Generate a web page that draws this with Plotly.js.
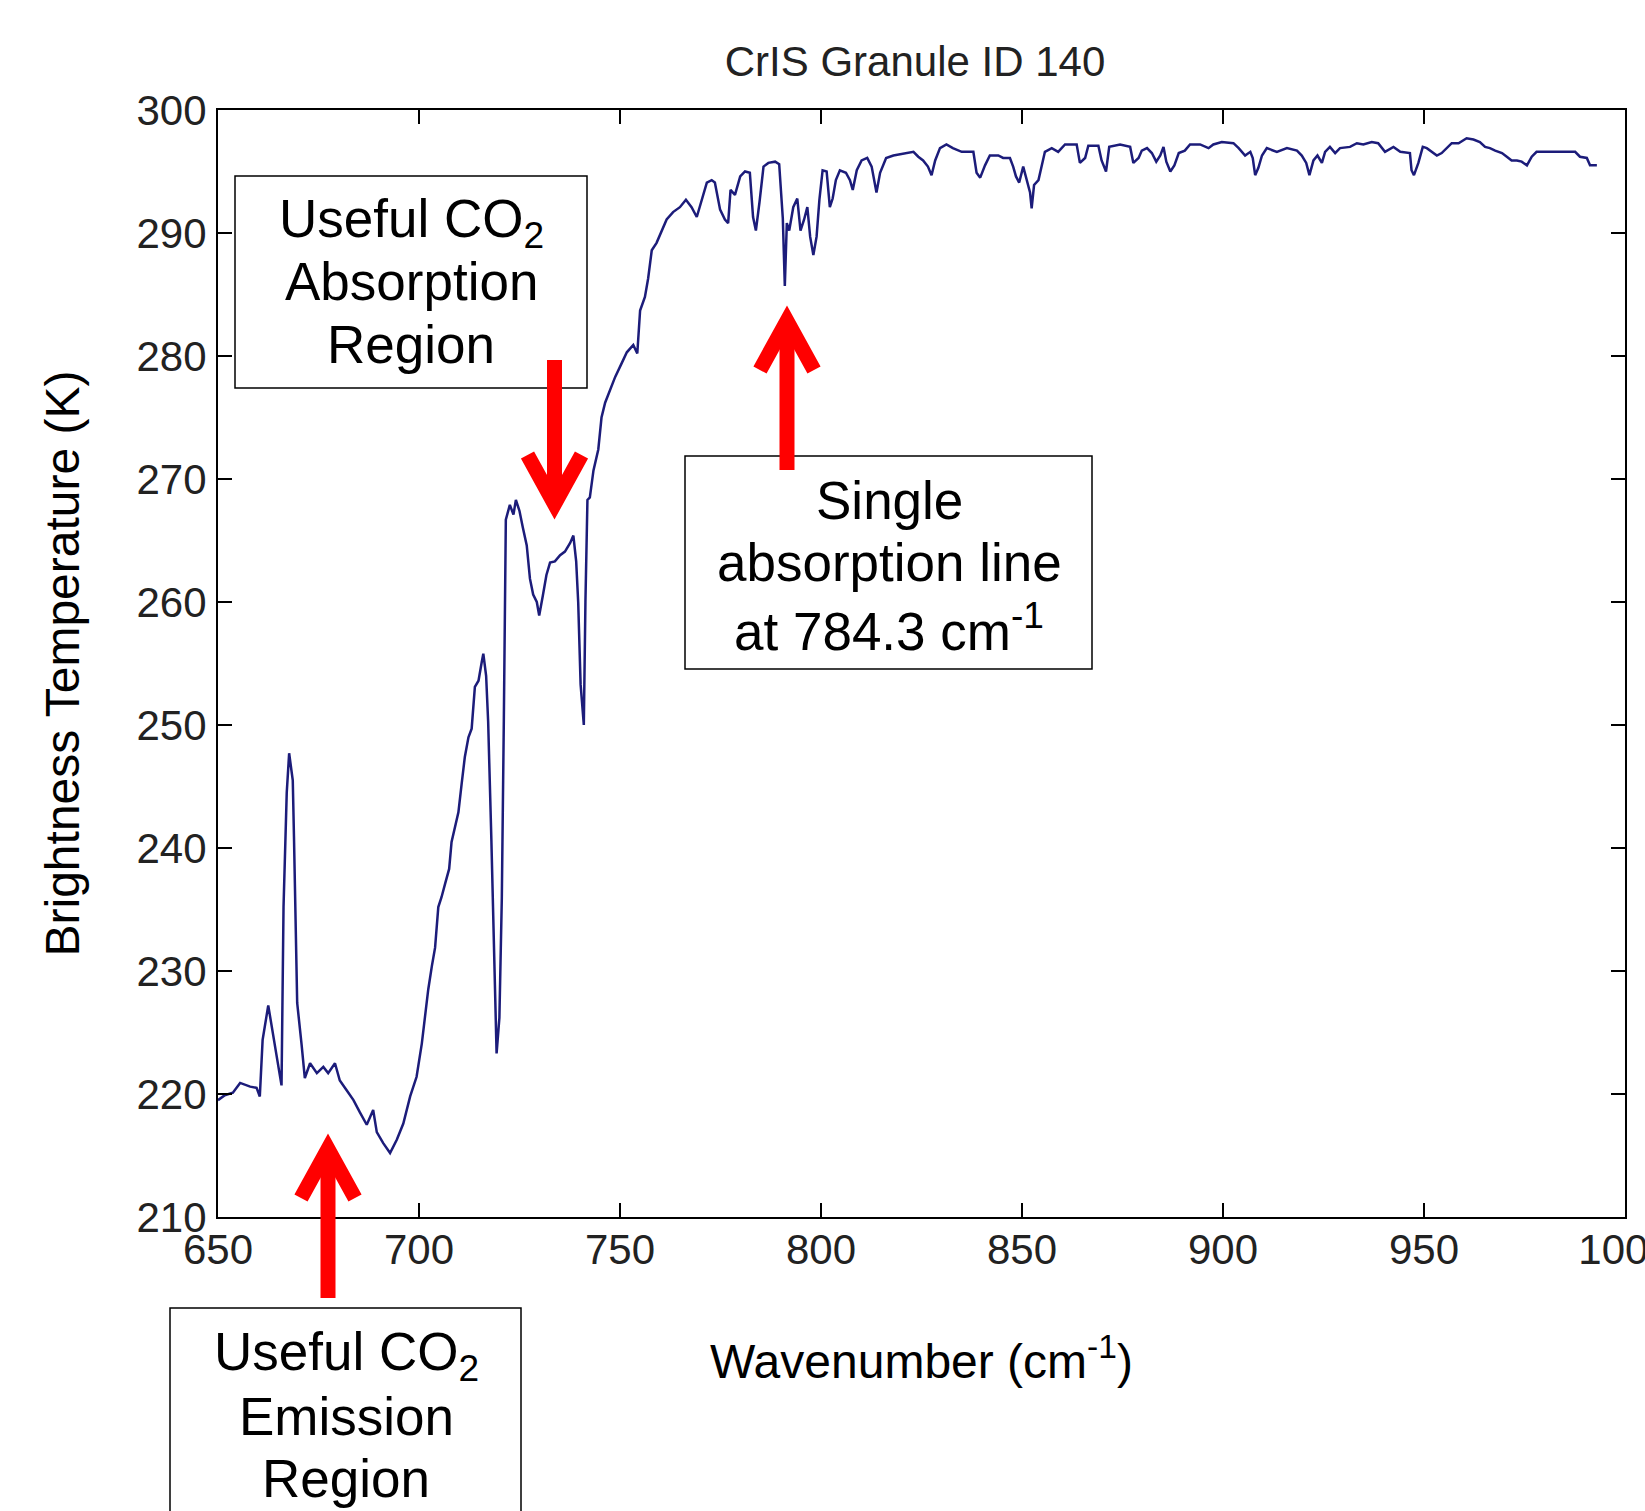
<!DOCTYPE html>
<html>
<head>
<meta charset="utf-8">
<script src="https://cdn.plot.ly/plotly-3.0.1.min.js"></script>
<style>html,body{margin:0;padding:0;background:#fff;}#chart{width:1645px;height:1511px;}</style>
</head>
<body>
<div id="chart"></div>
<script>
// ---- Data ----
const wavenumber = [
650.0,651.7,653.7,655.5,658.0,659.6,660.4,661.1,662.5,663.4,664.6,665.8,666.3,667.1,667.7,668.6,668.9,669.7,670.8,671.6,
672.9,674.6,676.2,677.4,679.1,680.3,682.0,683.7,685.3,687.0,688.6,689.5,691.1,692.8,694.5,696.1,697.8,699.4,700.7,702.3,
703.2,704.0,704.8,705.6,706.5,707.5,708.1,709.0,709.8,710.6,711.4,712.3,713.1,713.9,714.8,715.6,716.0,716.7,717.2,718.0,
718.7,719.3,720.0,720.6,721.1,721.6,722.6,723.5,724.1,725.0,725.8,726.8,727.6,728.4,729.3,729.9,730.8,731.7,732.6,733.8,
735.1,736.3,737.6,738.4,739.1,739.6,740.2,741.0,741.4,741.9,742.5,743.4,744.6,745.4,746.3,747.5,748.8,750.4,751.7,753.3,
754.3,755.0,756.2,757.0,757.9,759.1,760.3,761.6,763.2,764.9,766.4,767.8,769.1,770.3,771.6,772.8,773.6,774.9,776.1,776.9,
777.5,778.6,779.9,781.1,782.3,783.1,783.8,784.7,785.7,786.9,788.6,789.6,790.5,791.0,791.5,792.1,793.1,794.1,794.9,795.8,
796.6,797.3,798.1,798.9,799.6,800.4,801.4,802.2,802.9,803.7,804.7,806.2,807.2,807.9,808.9,810.1,811.5,812.6,813.8,814.7,
816.2,818.0,820.8,823.0,824.2,825.4,826.6,827.5,828.4,829.6,831.2,832.8,835.0,837.9,838.7,839.6,840.8,842.0,844.1,845.3,
847.0,847.8,848.5,849.3,850.3,851.2,852.0,852.4,853.0,854.1,854.9,855.7,857.4,859.0,860.7,863.6,864.4,865.7,866.5,869.0,
869.8,870.9,871.7,874.4,876.9,877.7,879.0,879.8,881.1,882.3,883.4,884.4,885.2,885.9,886.9,887.9,889.0,890.5,891.8,894.3,
896.4,897.6,899.7,902.6,903.9,905.5,906.8,907.4,908.0,908.8,909.7,910.9,913.4,915.9,918.4,919.6,920.7,921.5,922.5,923.5,
924.6,925.4,926.6,927.9,929.1,931.6,933.3,934.9,937.0,938.6,940.3,942.4,944.1,945.7,946.5,946.9,947.5,948.6,949.7,950.7,
951.9,953.2,954.4,955.7,956.9,958.6,960.6,962.3,963.9,965.2,966.4,967.7,969.4,970.6,971.8,973.1,974.3,975.6,976.8,978.0,
979.7,982.2,984.7,987.6,988.8,990.5,991.3,993.0
];
const brightnessTemp = [
219.5,219.9,220.1,220.9,220.6,220.5,219.8,224.4,227.2,225.4,223.0,220.7,235.2,244.5,247.7,245.5,240.9,227.4,224.0,221.3,
222.5,221.7,222.2,221.7,222.5,221.1,220.3,219.5,218.5,217.5,218.7,216.9,216.0,215.2,216.3,217.6,219.8,221.4,224.1,228.5,
230.4,231.9,235.2,236.0,237.1,238.3,240.5,241.9,242.9,245.2,247.4,249.0,249.7,253.1,253.6,255.1,255.8,254.0,250.3,240.7,
229.8,223.3,226.2,235.9,250.3,266.7,267.9,267.1,268.3,267.4,266.1,264.6,261.9,260.6,260.0,258.9,260.5,262.2,263.2,263.3,
263.8,264.1,264.8,265.4,263.3,260.0,253.3,250.0,260.0,268.3,268.5,270.7,272.4,275.0,276.2,277.2,278.3,279.4,280.3,280.9,
280.2,283.7,284.8,286.3,288.6,289.2,290.1,291.1,291.7,292.1,292.7,292.1,291.3,292.7,294.1,294.3,294.1,291.9,291.1,290.8,
293.5,293.1,294.6,295.0,294.9,291.3,290.2,292.5,295.4,295.7,295.8,295.6,291.2,285.7,290.8,290.2,292.1,292.8,290.2,291.1,
292.1,289.7,288.2,289.7,292.7,295.1,295.0,292.1,292.8,294.3,295.1,294.9,294.3,293.5,295.1,295.9,296.1,295.4,293.3,294.9,
296.1,296.3,296.5,296.6,296.2,295.9,295.4,294.7,295.9,296.9,297.2,296.9,296.6,296.6,294.9,294.5,295.5,296.3,296.3,296.1,
296.1,295.4,294.6,294.1,295.4,294.3,293.3,292.0,293.9,294.3,295.4,296.6,296.9,296.6,297.2,297.2,295.7,296.1,297.1,297.1,
295.9,295.0,297.0,297.2,297.0,295.7,296.1,296.7,296.9,296.5,295.8,296.3,297.0,295.8,295.0,295.5,296.5,296.7,297.2,297.2,
296.9,297.2,297.4,297.3,296.9,296.3,296.6,296.1,294.7,295.3,296.3,296.9,296.6,296.9,296.7,296.3,295.7,294.7,295.9,296.3,
295.7,296.6,297.0,296.5,296.9,297.0,297.3,297.2,297.4,297.3,296.6,297.0,296.6,296.5,296.5,295.1,294.7,295.7,297.0,296.9,
296.6,296.3,296.5,296.9,297.3,297.3,297.7,297.6,297.4,297.0,296.9,296.7,296.5,296.2,295.9,295.9,295.8,295.5,296.2,296.6,
296.6,296.6,296.6,296.6,296.2,296.1,295.5,295.5
];
const xTickVals = [650, 700, 750, 800, 850, 900, 950, 1000];
const yTickVals = [210, 220, 230, 240, 250, 260, 270, 280, 290, 300];
const chartTitle = 'CrIS Granule ID 140';
const xTitle = 'Wavenumber (cm<sup>-1</sup>)';
const yTitle = 'Brightness Temperature (K)';
const absorptionLabel = ['Useful CO<sub>2</sub>', 'Absorption', 'Region'];
const singleLineLabel = ['Single', 'absorption line', 'at 784.3 cm<sup>-1</sup>'];
const emissionLabel = ['Useful CO<sub>2</sub>', 'Emission', 'Region'];

// ---- Layout geometry (pixels in the 1645x1511 page) ----
const W = 1645, H = 1511;
const PL = 218, PR = 1625, PT = 110, PB = 1217;
const fx = x => (x - PL) / (PR - PL);
const fy = y => (PB - y) / (PB - PT);

const axisFont = {family: 'Liberation Sans, Arial, sans-serif', size: 42, color: '#222'};
const slideFont = {family: 'Liberation Sans, Arial, sans-serif', size: 53, color: '#000'};
const RED = '#ff0000';

function boxShape(x0, y0, x1, y1) {
  return {type: 'rect', xref: 'paper', yref: 'paper', x0: fx(x0), x1: fx(x1), y0: fy(y0), y1: fy(y1),
          line: {color: '#000', width: 1.5}, fillcolor: 'rgba(0,0,0,0)', layer: 'above'};
}
function arrowShapes(x, tail, vertex, armY, half) {
  return [
    {type: 'line', xref: 'paper', yref: 'paper', x0: fx(x), x1: fx(x), y0: fy(tail), y1: fy(vertex),
     line: {color: RED, width: 15}, layer: 'above'},
    {type: 'path', xref: 'paper', yref: 'paper',
     path: 'M' + fx(x - half) + ',' + fy(armY) + ' L' + fx(x) + ',' + fy(vertex) + ' L' + fx(x + half) + ',' + fy(armY),
     line: {color: RED, width: 15}, fillcolor: 'rgba(0,0,0,0)', layer: 'above'}
  ];
}
function textLines(lines, cx, centers) {
  return lines.map((t, i) => ({
    xref: 'paper', yref: 'paper', x: fx(cx), y: fy(centers[i]), xanchor: 'center', yanchor: 'middle',
    text: t, showarrow: false, font: slideFont
  }));
}

const shapes = [].concat(
  [boxShape(235, 176, 587, 388), boxShape(685, 456, 1092, 669), boxShape(170, 1308, 521, 1540)],
  arrowShapes(554.5, 360, 504, 455, 27),
  arrowShapes(787, 470, 321, 370, 27),
  arrowShapes(328, 1298, 1149, 1198, 27)
);

const annotations = [].concat(
  textLines(absorptionLabel, 411, [222, 281.5, 344.5]),
  textLines(singleLineLabel, 889, [500, 562, 627]),
  textLines(emissionLabel, 346, [1355, 1416, 1479])
);

const trace = {
  x: wavenumber, y: brightnessTemp, type: 'scatter', mode: 'lines',
  line: {color: '#1c1c7a', width: 2.5}, hoverinfo: 'x+y'
};

const axisCommon = {
  showgrid: false, zeroline: false, showline: true, linecolor: '#000', linewidth: 2,
  mirror: 'allticks', ticks: 'inside', ticklen: 14, tickwidth: 2, tickcolor: '#000',
  tickfont: axisFont, tickmode: 'array', automargin: false, ticklabeloverflow: 'allow'
};

const layout = {
  width: W, height: H,
  margin: {l: PL, r: W - PR, t: PT, b: H - PB, pad: 0},
  paper_bgcolor: '#fff', plot_bgcolor: '#fff',
  showlegend: false,
  title: {text: chartTitle, font: {family: axisFont.family, size: 42, color: '#222'},
          x: fx(915), xref: 'paper', xanchor: 'center', y: 1 - 61 / H, yref: 'container', yanchor: 'middle'},
  xaxis: Object.assign({}, axisCommon, {range: [650, 1000], tickvals: xTickVals, ticktext: xTickVals.map(String),
          ticklabelstandoff: -5,
          title: {text: xTitle, font: {family: slideFont.family, size: 48, color: '#000'}, standoff: 72}}),
  yaxis: Object.assign({}, axisCommon, {range: [210, 300], tickvals: yTickVals, ticktext: yTickVals.map(String),
          ticklabelstandoff: 1,
          title: {text: yTitle, font: {family: slideFont.family, size: 48, color: '#000'}, standoff: 42}}),
  shapes: shapes,
  annotations: annotations
};

Plotly.newPlot('chart', [trace], layout, {staticPlot: true, displayModeBar: false});
</script>
</body>
</html>
